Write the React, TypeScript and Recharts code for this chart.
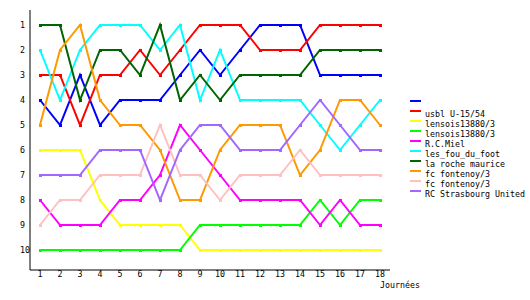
import { Line, LineChart, XAxis, YAxis } from "recharts"

// journées et classements
const days = [1, 2, 3, 4, 5, 6, 7, 8, 9, 10, 11, 12, 13, 14, 15, 16, 17, 18]
const rankTicks = [1, 2, 3, 4, 5, 6, 7, 8, 9, 10]

const teamNames = [
    "",
    "usbl U-15/54",
    "lensois13880/3",
    "lensois13880/3",
    "R.C.Miel",
    "les_fou_du_foot",
    "la roche maurice",
    "fc fontenoy/3",
    "fc fontenoy/3",
    "RC Strasbourg United",
]
const teamColors = [
    "#0000ff",
    "#ff0000",
    "#ffff00",
    "#00ff00",
    "#ff00ff",
    "#00ffff",
    "#006400",
    "#ff9900",
    "#ffc0c0",
    "#a366ff",
]

const blue = [4, 5, 3, 5, 4, 4, 4, 3, 2, 3, 2, 1, 1, 1, 3, 3, 3, 3]
const red = [3, 3, 5, 3, 3, 2, 3, 2, 1, 1, 1, 2, 2, 2, 1, 1, 1, 1]
const yellow = [6, 6, 6, 8, 9, 9, 9, 9, 10, 10, 10, 10, 10, 10, 10, 10, 10, 10]
const green = [10, 10, 10, 10, 10, 10, 10, 10, 9, 9, 9, 9, 9, 9, 8, 9, 8, 8]
const magenta = [8, 9, 9, 9, 8, 8, 7, 5, 6, 7, 8, 8, 8, 8, 9, 8, 9, 9]
const cyan = [2, 4, 2, 1, 1, 1, 2, 1, 4, 2, 4, 4, 4, 4, 5, 6, 5, 4]
const darkGreen = [1, 1, 4, 2, 2, 3, 1, 4, 3, 4, 3, 3, 3, 3, 2, 2, 2, 2]
const orange = [5, 2, 1, 4, 5, 5, 6, 8, 8, 6, 5, 5, 5, 7, 6, 4, 4, 5]
const pink = [9, 8, 8, 7, 7, 7, 5, 7, 7, 8, 7, 7, 7, 6, 7, 7, 7, 7]
const purple = [7, 7, 7, 6, 6, 6, 8, 6, 5, 5, 6, 6, 6, 5, 4, 5, 6, 6]

const series = [blue, red, yellow, green, magenta, cyan, darkGreen, orange, pink, purple]

const data = days.map((d, i) => {
    const row: Record<string, number> = { day: d }
    series.forEach((s, k) => {
        row["s" + k] = s[i]
    })
    return row
})

const font = "'DejaVu Sans Mono', monospace"

export default function App() {
    return (
        <div style={{ position: "absolute", left: 0, top: 0, width: 530, height: 300, background: "#fff" }}>
            <LineChart width={530} height={300} data={data} margin={{ top: 10, right: 140, bottom: 0, left: 0 }}>
                <XAxis
                    dataKey="day"
                    type="number"
                    domain={[0.5, 18.5]}
                    ticks={days}
                    height={30}
                    stroke="#000"
                    tickLine={false}
                    tickSize={0}
                    tickMargin={1}
                    tick={{ fill: "#000", fontSize: 8.3, fontFamily: font }}
                />
                <YAxis
                    type="number"
                    reversed
                    domain={[0.4, 10.8]}
                    ticks={rankTicks}
                    width={30}
                    stroke="#000"
                    tickLine={false}
                    tickSize={0}
                    tickMargin={10}
                    tick={{ fill: "#000", fontSize: 8.3, fontFamily: font, textAnchor: "start" }}
                />
                {series.map((_, k) => (
                    <Line
                        key={k}
                        dataKey={"s" + k}
                        name={teamNames[k]}
                        stroke={teamColors[k]}
                        strokeWidth={2}
                        type="linear"
                        isAnimationActive={false}
                        dot={(p: any) => (
                            <rect
                                key={"d" + k + "-" + p.index}
                                x={p.cx - 1.5}
                                y={p.cy - 1.5}
                                width={3}
                                height={3}
                                fill={teamColors[k]}
                                shapeRendering="crispEdges"
                            />
                        )}
                        activeDot={false}
                    />
                ))}
            </LineChart>
            {/* légende */}
            {teamNames.map((n, i) => (
                <div key={i}>
                    <div
                        style={{
                            position: "absolute",
                            left: 410,
                            top: 100 + i * 10,
                            width: 11,
                            height: 2,
                            background: teamColors[i],
                        }}
                    />
                    <div
                        style={{
                            position: "absolute",
                            left: 425,
                            top: 99 + i * 10,
                            height: 10,
                            lineHeight: "10px",
                            fontSize: 8.3,
                            fontFamily: font,
                            color: "#000",
                            whiteSpace: "pre",
                        }}
                    >
                        {n}
                    </div>
                </div>
            ))}
            <div
                style={{
                    position: "absolute",
                    left: 380,
                    top: 280,
                    lineHeight: "10px",
                    fontSize: 8.3,
                    fontFamily: font,
                    color: "#000",
                }}
            >
                Journées
            </div>
        </div>
    )
}
